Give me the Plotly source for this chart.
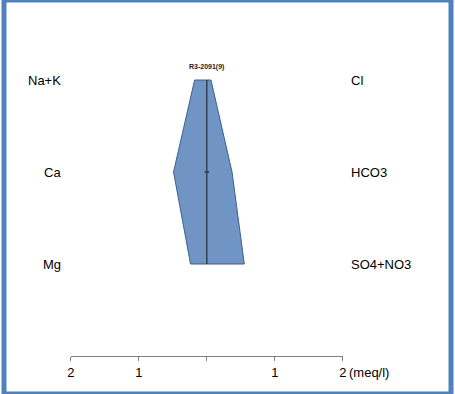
import plotly.graph_objects as go

cations = ["Na+K", "Ca", "Mg"]
anions = ["Cl", "HCO3", "SO4+NO3"]
cation_vals = [0.18, 0.49, 0.24]
anion_vals = [0.06, 0.37, 0.55]
levels = [2, 1, 0]
tick_vals = [-2, -1, 0, 1, 2]
tick_text = ["2", "1", "", "1", "2"]
sample = "R3-2091(9)"

FONT = "Liberation Sans, Arial"

px = [-v for v in cation_vals] + anion_vals[::-1] + [-cation_vals[0]]
py = levels + levels[::-1] + [levels[0]]

fig = go.Figure()
fig.add_trace(go.Scatter(x=px, y=py, mode="lines", fill="toself",
                         fillcolor="#7094c4", line=dict(color="#3f5f8f", width=1),
                         hoverinfo="skip", showlegend=False))
fig.add_trace(go.Scatter(x=[0, 0], y=[levels[0], levels[-1]], mode="lines",
                         line=dict(color="#1a1a1a", width=1), showlegend=False))
fig.add_trace(go.Scatter(x=[-0.035, 0.035], y=[levels[1], levels[1]], mode="lines",
                         line=dict(color="#1a1a1a", width=1), showlegend=False))

for lab, lv in zip(cations, levels):
    fig.add_annotation(x=0.133, xref="paper", y=lv, yref="y", text=lab,
                       showarrow=False, xanchor="right",
                       font=dict(family=FONT, size=13, color="#000"))
for lab, lv in zip(anions, levels):
    fig.add_annotation(x=0.772, xref="paper", y=lv, yref="y", text=lab,
                       showarrow=False, xanchor="left",
                       font=dict(family=FONT, size=13, color="#000"))

fig.add_annotation(x=0, y=levels[0], yref="y", yshift=13, text="<b>" + sample + "</b>",
                   showarrow=False, font=dict(family=FONT, size=7, color="#222"))
fig.add_annotation(x=2, y=levels[-1], yref="y", yshift=-108, xshift=4, text="(meq/l)",
                   showarrow=False, xanchor="left",
                   font=dict(family=FONT, size=13, color="#000"))

fig.add_shape(type="rect", xref="paper", yref="paper", x0=0, y0=0, x1=1, y1=1,
              line=dict(color="#4f81bd", width=5))

fig.update_layout(
    width=455, height=394, margin=dict(l=0, r=0, t=0, b=0),
    paper_bgcolor="white", plot_bgcolor="white",
    xaxis=dict(domain=[68 / 455, 345 / 455], range=[-2, 2], anchor="free",
               position=1 - 356 / 394, showgrid=False, zeroline=False,
               showline=True, linecolor="#808080", linewidth=1,
               ticks="outside", ticklen=4, tickcolor="#808080",
               tickvals=tick_vals, ticktext=tick_text,
               tickfont=dict(family=FONT, size=13, color="#000")),
    yaxis=dict(domain=[0, 1], range=[(264 - 394) / 92, 264 / 92], visible=False),
)

fig.write_html("out.html", config={"displayModeBar": False},
               post_script="document.body.style.margin='0';document.body.style.overflow='hidden';")
